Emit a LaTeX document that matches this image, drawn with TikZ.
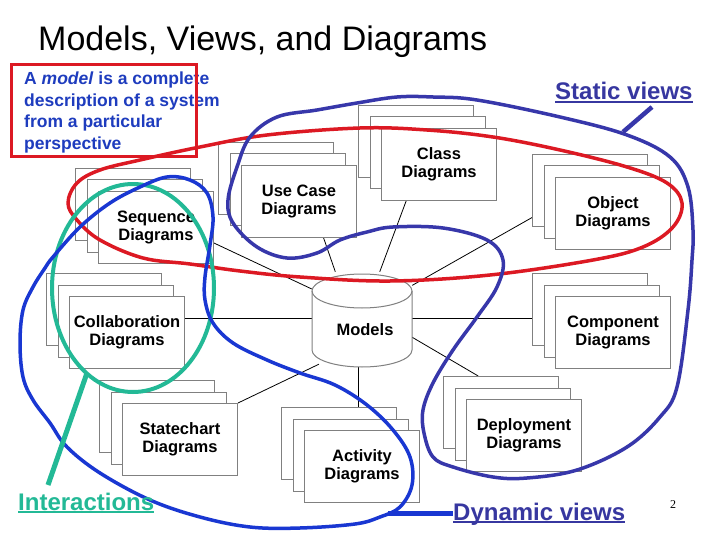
\documentclass[tikz,border=0pt]{standalone}
\usepackage{fontspec}
\setmainfont{Liberation Sans}
\newfontfamily\pgnumfont{Liberation Serif}
\usetikzlibrary{calc}
\pgfdeclarelayer{background}
\pgfsetlayers{background,main}
\definecolor{boxgray}{RGB}{128,128,128}
\definecolor{boxblue}{RGB}{30,60,190}
\definecolor{redline}{RGB}{220,25,35}
\definecolor{statblue}{RGB}{55,55,170}
\definecolor{dynblue}{RGB}{25,55,210}
\definecolor{lblblue}{RGB}{55,55,160}
\definecolor{tealc}{RGB}{35,185,150}
\newcommand\ulx[1]{\setbox0=\hbox{#1}\rlap{\rule[-3pt]{\wd0}{1.8pt}}\box0}
\newcommand\diagstack[4]{%
  \node[sbox] (#1B) at (#2,#3) {};
  \node[sbox] (#1M) at ({#2+11.5},{#3+11.5}) {};
  \node[sbox] (#1F) at ({#2+23},{#3+23}) {#4};}
\tikzset{
  sbox/.style={draw=boxgray, line width=1pt, fill=white, minimum width=115pt,
    minimum height=72pt, anchor=north west, inner sep=0pt, align=center,
    font=\fontsize{16.5}{18}\selectfont\bfseries},
  conn/.style={line width=0.8pt, black},
  cyl/.style={draw=boxgray, line width=1pt},
  hand/.style={line width=3.5pt, line cap=round, line join=round},
  pointer/.style={line width=5pt},
  lbl/.style={anchor=base west, inner sep=0pt, font=\fontsize{24}{27}\selectfont\bfseries},
}
\begin{document}
\begin{tikzpicture}[x=1pt,y=-1pt]
\useasboundingbox (0,0) rectangle (720,540);
\begin{pgfonlayer}{background}
\fill[white] (0,0) rectangle (720,540);
\end{pgfonlayer}

% title
\node[anchor=base west, inner sep=0pt, font=\fontsize{34}{40}\selectfont] (title) at (38,51) {Models, Views, and Diagrams};

% stacks
\diagstack{seq}{75}{168}{Sequence\\Diagrams}
\diagstack{use}{218}{142}{Use Case\\Diagrams}
\diagstack{cls}{358}{105}{Class\\Diagrams}
\diagstack{obj}{532}{154}{Object\\Diagrams}
\diagstack{col}{46}{273}{Collaboration\\Diagrams}
\diagstack{cmp}{532}{273}{Component\\Diagrams}
\diagstack{sta}{99}{380}{Statechart\\Diagrams}
\diagstack{act}{281}{407}{Activity\\Diagrams}
\diagstack{dep}{443}{376}{Deployment\\Diagrams}

% models cylinder
\node[minimum width=100pt, minimum height=92pt, inner sep=0pt] (models) at (362,318) {};
\fill[white] (312,291) -- (312,350) arc[start angle=180,end angle=360,x radius=50pt,y radius=17pt]
  -- (412,291) arc[start angle=0,end angle=180,x radius=50pt,y radius=17pt] -- cycle;
\draw[cyl] (312,291) -- (312,350) arc[start angle=180,end angle=360,x radius=50pt,y radius=17pt] -- (412,291);
\draw[cyl] (362,291) ellipse[x radius=50pt, y radius=17pt];
\node[font=\fontsize{16.5}{18}\selectfont\bfseries, inner sep=0pt] (modelsT) at (365,330) {Models};

% connectors
\begin{pgfonlayer}{background}
\draw[conn] (seqF.-15.5) -- (models.150.75);
\draw[conn] (useF.-56.9) -- (models.120.4);
\draw[conn] (clsF.228.8) -- (models.69.7);
\draw[conn] (objB.205.2) -- (models.33.4);
\draw[conn] (colF.east |- models.west) -- (models.west);
\draw[conn] (models.east) -- (models.east -| cmpB.west);
\draw[conn] (staF.north east) -- (models.227.1);
\draw[conn] (models.-95) -- (models.-95 |- actB.north);
\draw[conn] (models.-21.8) -- (depB.122.6);
\end{pgfonlayer}

% definition text
\node[anchor=north west, align=left, inner sep=0pt, text=boxblue,
  font=\fontsize{17.5}{21.5}\selectfont\bfseries] (def) at (24,72)
  {A \textit{model} is a complete\\description of a system\\from a particular\\perspective};
\draw[redline, line width=3pt] (11,65) rectangle (196,157);

% hand-drawn outlines
\draw[hand, redline] plot[smooth cycle, tension=0.6] coordinates {
 (68,203) (77,183) (100,170) (140,160) (200,147) (267,135) (360,128) (427,130)
 (493,137) (560,150) (627,167) (667,183) (682,203) (673,227) (643,247) (593,260)
 (490,275) (390,281) (300,277) (240,271) (190,264) (143,258) (100,240) (77,220)};
\draw[hand, tealc, line width=4pt] (133,288) ellipse[x radius=81pt, y radius=104pt];
\draw[hand, statblue] plot[smooth cycle, tension=0.6] coordinates {
 (228,200) (237,167) (250,137) (277,117) (317,110) (357,103) (397,97) (433,97)
 (477,100) (560,117) (627,135) (670,157) (688,187) (693,230) (692,260) (688,310)
 (677,387) (660,417) (627,447) (577,470) (527,478) (493,477) (453,467) (433,457)
 (424,433) (423,410) (433,383) (453,350) (477,317) (497,287) (503,260) (487,240)
 (443,228) (393,227) (367,232) (340,240) (317,253) (287,258) (257,247) (233,223)};
\draw[hand, dynblue] plot[smooth cycle, tension=0.6] coordinates {
 (53,257) (80,227) (110,203) (140,187) (167,177) (190,180) (207,193) (213,217)
 (210,245) (205,277) (205,300) (213,323) (233,343) (267,360) (300,373) (335,385)
 (367,405) (393,430) (410,457) (412,485) (400,507) (380,517) (355,524) (300,528)
 (250,527) (200,517) (150,500) (100,473) (67,447) (50,423) (33,400) (23,377)
 (20,343) (23,310) (33,287) (45,268)};

% labels and pointers
\node[lbl, text=lblblue] (statlbl) at (555,100) {\ulx{Static views}};
\coordinate (statA) at (652,107);
\coordinate (statB) at (623,132);
\draw[pointer, statblue, line width=4.5pt] (statA) -- (statB);

\node[lbl, text=lblblue] (dynlbl) at (453,520) {\ulx{Dynamic views}};
\coordinate (dynA) at (388,513);
\draw[pointer, dynblue] (dynA) -- (dynA -| dynlbl.west);

\node[lbl, text=tealc] (intlbl) at (18,510) {\ulx{Interactions}};
\coordinate (intA) at (87,373);
\coordinate (intB) at (48,485);
\draw[pointer, tealc] (intA) -- (intB);

\node[inner sep=0pt, font=\pgnumfont\fontsize{12}{14}\selectfont] (pg) at (673,505) {2};
\end{tikzpicture}
\end{document}
